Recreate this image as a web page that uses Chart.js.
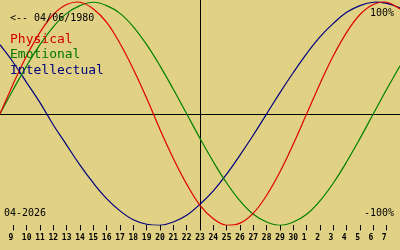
<!DOCTYPE html>
<html>
<head>
<meta charset="utf-8">
<script src="https://cdn.jsdelivr.net/npm/chart.js@4/dist/chart.umd.min.js"></script>
<style>
    body { margin: 0; background: #e0d184; }
    #wrap { width: 400px; height: 250px; position: relative; }
</style>
</head>
<body>
<div id="wrap"><canvas id="bioChart"></canvas></div>
<script>
// days shown: 8 april -> 8 may 2026
var days = ['8', '9', '10', '11', '12', '13', '14', '15', '16', '17', '18', '19', '20', '21', '22',
    '23', '24', '25', '26', '27', '28', '29', '30', '1', '2', '3', '4', '5', '6', '7', '8'];
var todayIndex = 15;

var physical = [0, 27, 52, 73, 89, 98, 100, 94, 82, 63, 40, 14, -14, -40, -63, -82,
    -94, -100, -98, -89, -73, -52, -27, 0, 27, 52, 73, 89, 98, 100, 94];
var emotional = [0, 22, 43, 62, 78, 90, 97, 100, 97, 90, 78, 62, 43, 22, 0, -22,
    -43, -62, -78, -90, -97, -100, -97, -90, -78, -62, -43, -22, 0, 22, 43];
var intellectual = [62, 46, 28, 10, -10, -28, -46, -62, -76, -87, -95, -99, -100, -97, -91, -81,
    -69, -54, -37, -19, 0, 19, 37, 54, 69, 81, 91, 97, 100, 99, 95];

var labelsPlugin = {
    id: 'bioLabels',
    beforeDatasetsDraw(chart) {
        // zero line across the whole width
        var ctx = chart.ctx;
        var y0 = Math.round(chart.scales.y.getPixelForValue(0)) + 0.5;
        ctx.save();
        ctx.strokeStyle = '#000000';
        ctx.lineWidth = 1;
        ctx.beginPath();
        ctx.moveTo(0, y0);
        ctx.lineTo(chart.width, y0);
        ctx.stroke();
        ctx.restore();
    },
    afterDatasetsDraw(chart) {
        var ctx = chart.ctx;
        ctx.save();
        ctx.textBaseline = 'alphabetic';
        ctx.font = '10px "DejaVu Sans Mono"';
        ctx.fillStyle = '#000000';
        ctx.textAlign = 'left';
        ctx.fillText('<-- 04/06/1980', 10, 20.5);
        ctx.fillText('04-2026', 4, 216);
        ctx.textAlign = 'right';
        ctx.fillText('100%', 394, 15.5);
        ctx.fillText('-100%', 394, 216);

        ctx.textAlign = 'left';
        ctx.font = '13px "DejaVu Sans Mono"';
        ctx.fillStyle = '#d40000';
        ctx.fillText('Physical', 10, 42.5);
        ctx.fillStyle = '#007800';
        ctx.fillText('Emotional', 10, 58);
        ctx.fillStyle = '#000080';
        ctx.fillText('Intellectual', 10, 73.5);
        ctx.restore();
    }
};

var bioCTX = document.getElementById('bioChart').getContext('2d');

var bioChart = new Chart(bioCTX, {
    type: 'line',
    data: {
        labels: days,
        datasets: [{
            label: 'Physical',
            data: physical,
            borderColor: '#e00000',
            borderWidth: 1.2,
            pointRadius: 0,
            tension: 0.4,
            fill: false
        }, {
            label: 'Emotional',
            data: emotional,
            borderColor: '#008000',
            borderWidth: 1.2,
            pointRadius: 0,
            tension: 0.4,
            fill: false
        }, {
            label: 'Intellectual',
            data: intellectual,
            borderColor: '#000080',
            borderWidth: 1.2,
            pointRadius: 0,
            tension: 0.4,
            fill: false
        }]
    },
    options: {
        responsive: true,
        maintainAspectRatio: false,
        animation: false,
        layout: { padding: { top: 0, left: 0, right: 0, bottom: 4 } },
        plugins: {
            legend: { display: false },
            tooltip: { enabled: false }
        },
        scales: {
            x: {
                offset: false,
                border: { display: false },
                // ticks padding would otherwise inset the plot 3px on both sides
                afterFit: function(scale) {
                    scale.paddingLeft = 0;
                    scale.paddingRight = 0;
                },
                grid: {
                    drawOnChartArea: true,
                    tickLength: 5,
                    color: function(c) { return c.index === todayIndex ? '#000000' : 'rgba(0,0,0,0)'; },
                    tickColor: function(c) {
                        return (c.index === 0 || c.index === days.length - 1) ? 'rgba(0,0,0,0)' : '#000000';
                    }
                },
                ticks: {
                    autoSkip: false,
                    maxRotation: 0,
                    padding: 3,
                    color: '#000000',
                    font: { family: 'DejaVu Sans Mono', size: 8, weight: 'bold' },
                    callback: function(val, i) {
                        if (i === 0 || i === days.length - 1) return '';
                        var s = days[i];
                        return s.length < 2 ? s + ' ' : s;
                    }
                }
            },
            y: {
                display: false,
                min: -100,
                max: 102
            }
        }
    },
    plugins: [labelsPlugin]
});
</script>
</body>
</html>
